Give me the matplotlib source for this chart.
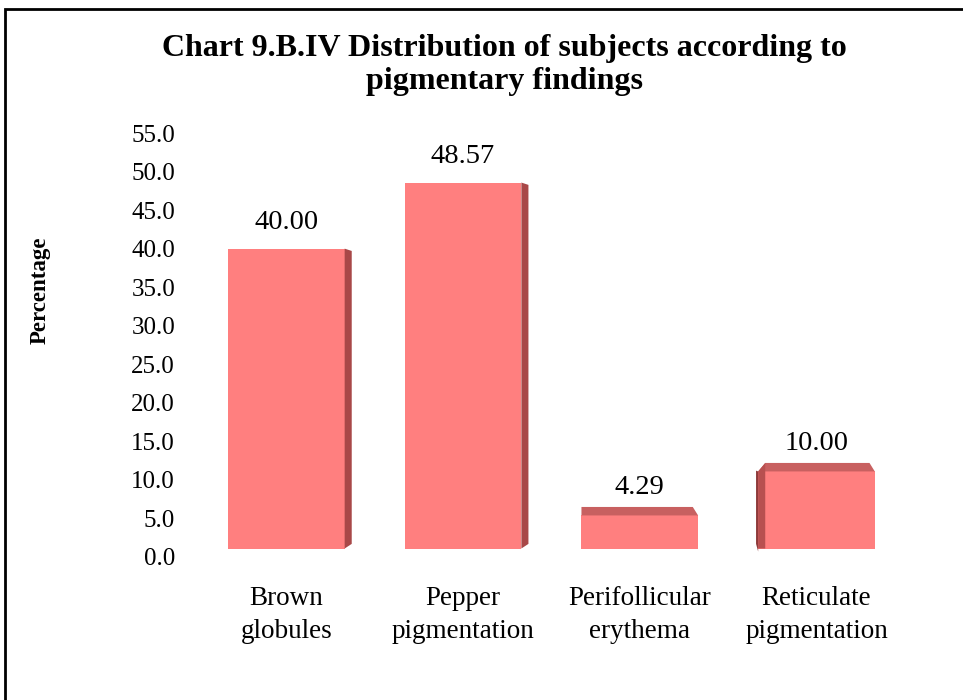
import matplotlib.pyplot as plt
from matplotlib.patches import Polygon, Rectangle

categories = ["Brown\nglobules", "Pepper\npigmentation", "Perifollicular\nerythema", "Reticulate\npigmentation"]
values = [40.00, 48.57, 4.29, 10.00]
yticks = [0, 5, 10, 15, 20, 25, 30, 35, 40, 45, 50, 55]

plt.rcParams['font.family'] = ['Liberation Serif', 'DejaVu Serif']

front = '#FF7F7F'
top_col = '#C86060'
side_col = '#A84848'

fig = plt.figure(figsize=(9.63, 7.0), dpi=100)
ax = fig.add_axes([0.2056, 0.2043, 0.734, 0.6057])

base = 1.1
w = 0.66
dx = 0.04
# which way each bar's side face shows: right, right, none, left
sides = ['right', 'right', 'none', 'left']
for i, v in enumerate(values):
    x0, x1 = i - w / 2, i + w / 2
    top = v + (base if v < 20 else 0)
    ax.add_patch(Rectangle((x0, base), w, top - base, facecolor=front, edgecolor='none', zorder=2))
    if sides[i] == 'right':
        ax.add_patch(Polygon([(x1, base), (x1 + dx, base + 0.6), (x1 + dx, top - 0.3), (x1, top)],
                             facecolor=side_col, edgecolor='none', zorder=2))
    else:
        ax.add_patch(Polygon([(x0, top), (x0 + (dx if sides[i] == 'left' else 0), top + 1.1),
                              (x1 - 0.03, top + 1.1), (x1, top)],
                             facecolor=top_col, edgecolor='none', zorder=2))
    if sides[i] == 'left':
        ax.add_patch(Polygon([(x0, top), (x0 - 0.012, top + 0.1), (x0 - 0.012, base + 0.6), (x0, base - 0.4)],
                             facecolor='#8E3A3A', edgecolor='none', zorder=2))
        ax.add_patch(Polygon([(x0, top), (x0 + dx, top + 1.1), (x0 + dx, base), (x0, base)],
                             facecolor='#B85050', edgecolor='none', zorder=3))
    lab_y = top + (2.0 if v < 20 else 1.8)
    ax.text(i, lab_y, f"{v:.2f}", ha='center', va='bottom', fontsize=20.5)

ax.set_xlim(-0.5, 3.5)
ax.set_ylim(0, 55)
ax.set_yticks(yticks)
ax.set_yticklabels([f"{t:.1f}" for t in yticks], fontsize=18)
ax.set_xticks(range(len(categories)))
ax.set_xticklabels(categories, fontsize=19.5, linespacing=1.4)
ax.tick_params(axis='y', length=0, pad=16.5)
ax.tick_params(axis='x', length=0, pad=21)
for s in ax.spines.values():
    s.set_visible(False)

fig.text(40 / 963, 1 - 290 / 700, "Percentage", rotation=90, ha='center', va='center',
         fontsize=16.5, fontweight='bold')
fig.text(0.524, 1 - 65 / 700, "Chart 9.B.IV Distribution of subjects according to\npigmentary findings",
         ha='center', va='center', fontsize=23, fontweight='bold', linespacing=1.2)

fig.add_artist(Rectangle((5 / 963, -0.1), 1.2, 1.1 - 9 / 700, transform=fig.transFigure,
                         fill=False, edgecolor='black', linewidth=2))

fig.savefig('out.png', dpi=100)
